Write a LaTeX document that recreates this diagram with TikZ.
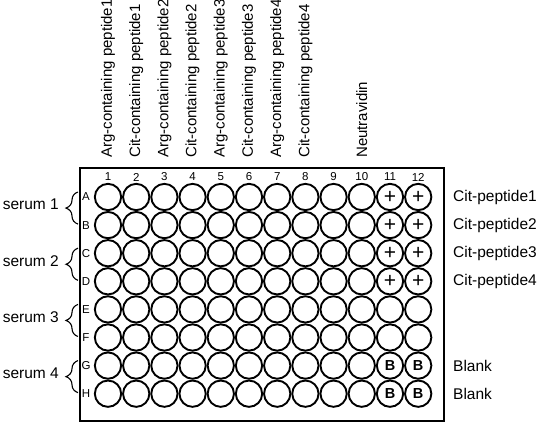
\documentclass[tikz,border=0pt]{standalone}
\usepackage{fontspec}
\setmainfont{Liberation Sans}
\usetikzlibrary{decorations.pathreplacing}

\tikzset{
  well/.style={circle, draw, line width=1.9pt, minimum size=26.3pt, inner sep=0pt},
  toplabel/.style={rotate=90, anchor=west, inner sep=0pt, font=\fontsize{15}{15}\selectfont},
  sidelabel/.style={inner sep=0pt, font=\fontsize{15.5}{16}\selectfont},
  smalllabel/.style={inner sep=0pt, font=\fontsize{11.5}{11.5}\selectfont},
  pluslabel/.style={inner sep=0pt, font=\fontsize{21}{21}\selectfont},
  blanklabel/.style={inner sep=0pt, font=\fontsize{14.5}{14.5}\selectfont\bfseries},
  serumbrace/.style={decorate, decoration={brace, amplitude=12pt}, line width=1.1pt},
}

\begin{document}
\begin{tikzpicture}[x=1pt, y=-1pt]
    \useasboundingbox (0,0) rectangle (542,425);

    % plate
    \draw[line width=2.2pt] (80,168) rectangle (444,421);

    % wells and row letters
    \foreach \r [count=\i] in {A,...,H} {
        \foreach \c in {1,...,12} {
            \node[well] (w\r\c) at ({108+28.2*(\c-1)}, {197+28.1*(\i-1)}) {};
        }
        \node[smalllabel] (row\r) at (86, {197+28.1*(\i-1)}) {\r};
    }

    % column numbers
    \foreach \c in {1,...,12}
        \node[smalllabel] (col\c) at ({108+28.2*(\c-1)}, 177) {\c};

    % coating
    \node[toplabel] (coat1) at (108,158) {Arg-containing peptide1};
    \node[toplabel] (coat2) at (136.2,158) {Cit-containing peptide1};
    \node[toplabel] (coat3) at (164.4,158) {Arg-containing peptide2};
    \node[toplabel] (coat4) at (192.6,158) {Cit-containing peptide2};
    \node[toplabel] (coat5) at (220.8,158) {Arg-containing peptide3};
    \node[toplabel] (coat6) at (249,158) {Cit-containing peptide3};
    \node[toplabel] (coat7) at (277.2,158) {Arg-containing peptide4};
    \node[toplabel] (coat8) at (305.4,158) {Cit-containing peptide4};
    \node[toplabel] (coat10) at (361.8,158) {Neutravidin};

    % controls
    \foreach \r in {A,B,C,D} {
        \node[pluslabel] (p\r11) at (w\r11) {+};
        \node[pluslabel] (p\r12) at (w\r12) {+};
    }
    \foreach \r in {G,H} {
        \node[blanklabel] (b\r11) at (w\r11) {B};
        \node[blanklabel] (b\r12) at (w\r12) {B};
    }

    \node[sidelabel, anchor=west] (ctrl1) at (453,197) {Cit-peptide1};
    \node[sidelabel, anchor=west] (ctrl2) at (453,225.1) {Cit-peptide2};
    \node[sidelabel, anchor=west] (ctrl3) at (453,253.2) {Cit-peptide3};
    \node[sidelabel, anchor=west] (ctrl4) at (453,281.3) {Cit-peptide4};
    \node[sidelabel, anchor=west] (blank1) at (453,365.6) {Blank};
    \node[sidelabel, anchor=west] (blank2) at (453,393.7) {Blank};

    % sera
    \foreach \s in {1,...,4} {
        \coordinate (top\s) at (78, {197+56.2*(\s-1)-5});
        \coordinate (bot\s) at (78, {225.1+56.2*(\s-1)-1});
        \draw[serumbrace] (bot\s) -- (top\s);
        \node[sidelabel, anchor=base east] (serum\s) at (59, {215+56.2*(\s-1)-5}) {serum \s};
    }
\end{tikzpicture}
\end{document}
